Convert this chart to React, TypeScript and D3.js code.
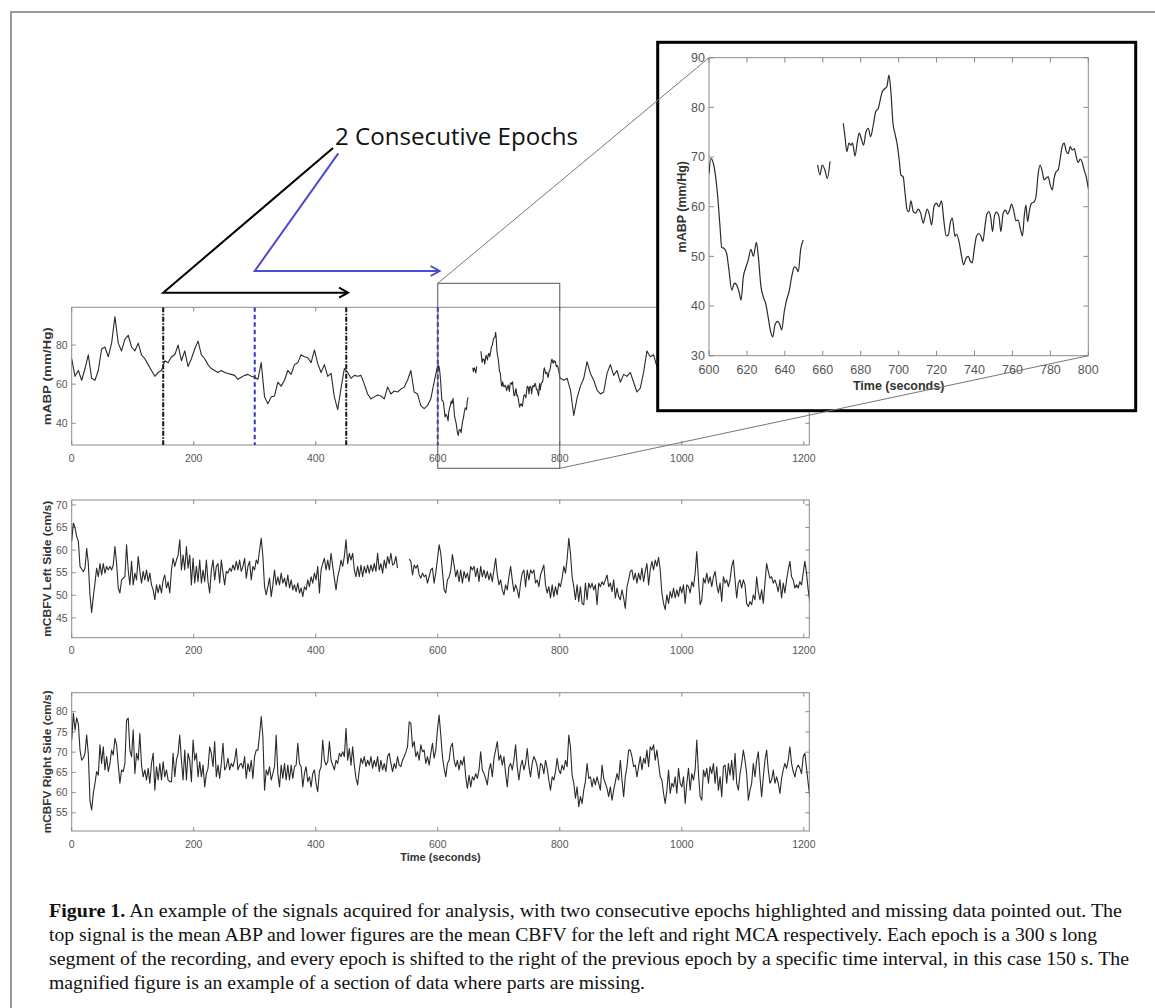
import { useEffect, useRef } from 'react';
import * as d3 from 'd3';

// ---- data ----
// mABP, whole recording, one value every 5.45 s (0 .. 599.5 s)
const ABP_STEP = 5.45;
const abpHead = [
  73, 64, 67, 62, 68, 75, 63, 62, 67, 78,
  79, 74, 81, 94.5, 81, 77, 83, 85, 79, 77,
  81, 75, 73, 70, 67, 64, 66, 67, 72, 71,
  74, 75, 80, 72, 77, 69, 73, 78, 82, 75,
  73, 70, 68, 67, 66, 67, 66, 65.5, 65, 64.5,
  62.5, 63.5, 64.5, 65, 64, 63.5, 62.5, 71, 53.5, 50,
  53.5, 54, 61, 59, 62, 67, 65, 70, 71, 75,
  74, 73.5, 71, 77.5, 70.5, 66, 70, 64, 65.5, 53.5,
  47, 58, 68, 66, 63, 64.5, 64, 64.5, 60, 55,
  52.5, 53.5, 54.5, 54, 52.5, 58.5, 55, 56.5, 56, 57.5,
  58.5, 62, 67, 56, 55, 49, 47.5, 49, 52.5, 61, 69,
];
// mABP after the magnified window (801 s on; the rest is under the inset)
const ABP_TAIL_START = 801.15;
const abpTail = [
  63, 62, 63, 57, 44, 53, 59, 63, 71.5, 65.5,
  62, 57, 55, 56, 65.5, 70, 64.5, 67, 61, 65,
  64, 66, 61, 56, 58, 66, 77, 74, 75, 69,
];
// magnified section 600-800 s, [time, mABP]; null = missing data
const abpZoom: [number, number | null][] = [
  [600, 66.7], [601, 69.7], [602.3, 68.7], [603.5, 66], [604.6, 62], [605.8, 56], [606.7, 51.8],
  [608, 51.6], [609.3, 50.6], [610.5, 47.3], [612, 43.2], [613.4, 44.6], [614.6, 44.2], [615.8, 42.9],
  [616.9, 41.2], [618.1, 45.9], [619.3, 47.6], [620.7, 49.3], [622.1, 51.4], [623.4, 50], [625, 52.8],
  [626, 50], [627.4, 43.9], [628.6, 41.9], [629.9, 40.5], [631.3, 37.5], [632.3, 35.2], [633.6, 33.8],
  [634.8, 36.2], [636.2, 36.9], [637.4, 36.2], [638.3, 35.2], [639.7, 38.9], [640.9, 41.2], [642.2, 42.9],
  [643.6, 45.9], [645, 47.9], [646.2, 47.6], [647.1, 46.9], [648.3, 51.3], [649.7, 53.3],
  [653, null],
  [657.3, 68.4], [658.5, 66.4], [659.7, 68.4], [661.1, 67.4], [662.4, 65.7], [663.8, 69.1],
  [667, null],
  [670.8, 76.8], [671.7, 74.1], [672.7, 71.1], [673.8, 72.8], [674.8, 72.4], [675.7, 72.8], [677, 70.2],
  [678.2, 73.1], [679.2, 74.8], [680.5, 73.4], [681.5, 72.4], [682.8, 75.1], [684, 75.8], [685.2, 74.1],
  [686.6, 76.4], [687.9, 79.1], [689.3, 79.8], [690.3, 81.5], [691.4, 83.2], [692.8, 83.8], [693.8, 84.2],
  [694.9, 86.5], [695.9, 83.2], [697, 76.8], [698, 74.8], [699.3, 72.4], [700.3, 69.4], [701.2, 66.4],
  [702.4, 66], [703.3, 63], [704.5, 59.3], [705.4, 59], [706.5, 61.2], [707.7, 59], [708.9, 58.7],
  [710.3, 59.5], [711.6, 58.7], [713, 56.7], [713.9, 58], [715.1, 59.5], [716, 58.7], [717.4, 56.3],
  [718.6, 60], [720, 60.7], [721.2, 60], [722.6, 61.2], [723.8, 57.3], [725.1, 54.1], [726.2, 54.3],
  [727.2, 56.7], [728.3, 57.7], [729.7, 54], [730.5, 54.5], [731.8, 53], [733.2, 50], [734.2, 48.3],
  [735.5, 49.6], [736.7, 50], [737.7, 49.1], [738.8, 48.7], [739.8, 51.3], [741, 54], [742.3, 54.6],
  [743.4, 54], [744.4, 53], [745.5, 56], [746.5, 58.5], [747.6, 59], [748.6, 57.7], [749.5, 55],
  [750.6, 58.3], [751.6, 58.9], [752.9, 58], [753.9, 55], [755.1, 58.7], [756.4, 59.3], [757.4, 58.5],
  [758.5, 59.3], [759.5, 60.5], [760.8, 59], [761.8, 57.2], [763, 57.3], [764.3, 55.3], [765.3, 54.1],
  [766.2, 58], [767.1, 60.3], [768, 57], [769, 59.3], [770.1, 60.7], [771.5, 61], [772.4, 62],
  [773.6, 66.7], [774.6, 68.4], [775.7, 67.1], [776.7, 65.4], [777.8, 65.8], [778.9, 66], [779.9, 64.4],
  [781, 63.4], [782, 65.8], [783.1, 67.1], [784.1, 67.4], [785.2, 69.7], [786.2, 72.1], [787.3, 72.8],
  [788.4, 71.1], [789.4, 70.7], [790.5, 72.1], [791.5, 71.4], [792.6, 71.7], [793.6, 70.1], [794.7, 68.9],
  [795.7, 69.6], [796.8, 68.9], [797.8, 67.4], [798.9, 66], [800, 63.7],
];

// mCBFV, one value every 2.725 s; null = missing data
const CBFV_STEP = 2.725;
const cbfvLeft: (number | null)[] = [
  62, 66, 65, 63, 62, 56.4, 55.8, 55.2, 56, 60.4,
  57, 50, 46.2, 49.7, 52.7, 56, 54.1, 57, 54.5, 57,
  54.9, 56.4, 55.6, 56.4, 55.6, 56.7, 60.8, 57, 51.6, 50.5,
  53.4, 53.8, 54.1, 61.2, 55.6, 52.3, 57.5, 52.3, 54.9, 53.4,
  58.6, 55.3, 52.7, 55.3, 53.4, 55.6, 53, 54.9, 52.3, 51.2,
  49, 52.3, 50.5, 52.3, 50.5, 53.4, 54.5, 51.6, 53, 50.5,
  55.6, 58.2, 56.4, 57.8, 58.9, 62.3, 55.6, 58.9, 55.6, 60.8,
  56, 58.9, 52.3, 58.2, 52.7, 56.4, 53, 57.8, 52.7, 55.6,
  53, 57.8, 53, 50.5, 55.6, 57.8, 53.4, 56.4, 57, 52.7,
  57.8, 54.9, 52.3, 55.3, 54.9, 56, 55.3, 56.7, 55.6, 57.5,
  55.6, 57.8, 55.3, 56.4, 58.2, 53.8, 56.4, 57.5, 53.4, 56.4,
  55.6, 57.8, 57, 60, 62.6, 58.6, 51.9, 50.1, 51.9, 53.8,
  49.7, 52.3, 55.6, 52.3, 54.1, 52.3, 54.9, 52.7, 53.8, 51.9,
  54.5, 51.6, 53.4, 51.2, 52.3, 50.8, 52.7, 50.5, 51.6, 49.7,
  51.9, 51.2, 53.4, 51.9, 54.1, 52.7, 54.9, 53.4, 56.4, 50.5,
  55.6, 57, 58.2, 55.6, 57.8, 55.6, 59.3, 56.4, 53.8, 51.2,
  54.1, 55.6, 57.8, 56.4, 58.6, 62.3, 57, 59.3, 57.8, 59.3,
  55.6, 54.1, 56.4, 54.1, 56.7, 54.1, 56.4, 54.9, 56.7, 54.9,
  56.7, 55.3, 57, 55.3, 59.3, 55.6, 57, 54.9, 57.8, 56,
  58.6, 57, 59.3, 56.7, 57, 58.6, 56, null, null, null,
  null, null, null, 58, 57.5, 54.5, 56.7, 56, 56.7, 54.5,
  53.8, 54.9, 54.1, 54.5, 52.7, 54.1, 55.6, 56, 52.7, 55,
  58, 61.2, 59.3, 55.3, 51.2, 50.5, 53.4, 54, 55.5, 59,
  56.7, 54.1, 55.6, 53, 55.6, 52.7, 55.3, 53.8, 54.9, 53,
  56.4, 55.6, 56.4, 54.1, 56, 53, 56.4, 54.1, 55.6, 53.8,
  55.3, 53.4, 54.9, 53, 55.6, 58.2, 54.5, 52.3, 53.4, 51.2,
  50.1, 52.3, 51.2, 54.1, 56.4, 53.4, 50.8, 52.3, 51.2, 49.4,
  52.7, 54.9, 55.6, 51.9, 55.6, 53.4, 55.6, 54.9, 55.6, 52.7,
  53.4, 51.9, 54.5, 55.6, 56.7, 52.3, 50.5, 51.9, 49.4, 52.3,
  49.7, 51.9, 50.1, 52.7, 51.9, 53.8, 56.4, 54.9, 58, 62.6,
  59.3, 54.1, 51.9, 49, 52.3, 48.6, 51.9, 48.2, 47.9, 52.7,
  49, 52.7, 51.6, 52.7, 51.2, 52.3, 47.9, 52.7, 51.9, 53,
  52.3, 53.4, 54.5, 51.9, 52.7, 50.8, 53.4, 49.4, 51.6, 49.7,
  49, 51.2, 49.4, 47.1, 51.9, 53.4, 55.3, 55.6, 53.4, 54.9,
  52.7, 54.9, 53.4, 56, 53, 55.3, 57, 52.3, 55.6, 57.5,
  55.6, 57.8, 56.4, 58.4, 55.6, 50.5, 48.2, 46.8, 50.1, 48.2,
  50.8, 49.4, 51.6, 49.4, 51.2, 49.7, 51.9, 50.5, 52.3, 48.2,
  52.3, 51.9, 50.5, 53, 51.9, 54.9, 59.7, 53.4, 47.9, 49,
  53.8, 52.7, 54.9, 52.7, 54.1, 51.9, 54.1, 55.3, 52.3, 50.5,
  52.7, 48.6, 54.1, 52.7, 53.4, 51.9, 53.4, 56.4, 57.8, 53.4,
  49.4, 52.7, 53.4, 51.6, 53.4, 52.3, 48.2, 47.5, 48.6, 47.9,
  50.1, 49, 54.1, 50.8, 49, 51.2, 48.2, 52.7, 57, 55.3,
  53.8, 54.1, 52.7, 53.4, 52.3, 50.8, 53.4, 49.4, 52.7, 50.5,
  53.4, 55.6, 57.5, 54.1, 53.4, 51.6, 52.3, 51.6, 53, 52.3,
  54.9, 57.5, 54.9, 51.2, 48.6,
];
const cbfvRight: (number | null)[] = [
  73, 79.6, 75.5, 78.5, 77, 70.5, 68, 68.5, 69.7, 74.2,
  69.5, 58, 55.7, 59.8, 62.3, 65.2, 64.3, 71.8, 67.2, 71.3,
  65.6, 68.9, 65.2, 67.2, 70.5, 69.3, 73.4, 71.8, 66.8, 62.3,
  65.6, 65.2, 67.2, 77.9, 78.4, 70.5, 68.9, 75.5, 64.7, 69.7,
  68, 74.6, 66.8, 63.9, 65.6, 63.1, 66, 62.3, 67.2, 69.7,
  60.6, 66.4, 63.1, 67.2, 63.1, 67.6, 63.9, 65.6, 63.1, 62.7,
  62.7, 69.7, 63.9, 68, 69.7, 74.2, 68, 63.1, 70.5, 63.1,
  69.7, 68, 62.7, 73, 68, 69.7, 63.9, 67.6, 63.9, 66.8,
  61.4, 64.7, 66, 71.3, 69.7, 66.4, 72.6, 63.9, 66.8, 63.5,
  67.2, 72.2, 65.6, 66.4, 68.5, 65.6, 67.2, 66.4, 68, 70.9,
  65.6, 66.8, 67.2, 66, 68.9, 63.5, 67.2, 65.2, 68, 63.5,
  68.9, 70.5, 70.5, 74.2, 78.8, 73.8, 60.6, 65.6, 64.3, 66.4,
  63.1, 64.7, 66.4, 74.2, 64.7, 61.4, 66.8, 63.5, 67.2, 63.1,
  66.8, 63.1, 66.8, 63.5, 66.4, 66.8, 72.2, 67.2, 66.4, 61.4,
  64.7, 66.4, 62.7, 63.9, 61.4, 64.7, 65.6, 62.3, 60.2, 65.2,
  66.4, 73, 68, 66.8, 67.6, 72.6, 68, 66.8, 65.6, 68,
  67.2, 69.7, 68.9, 70.1, 68.9, 75.9, 68, 70.9, 66.8, 71.3,
  66.8, 63.5, 61.9, 65.6, 68.5, 67.2, 68.9, 66.4, 68, 66.8,
  68.9, 66, 68, 66.4, 68.9, 65.2, 68, 65.6, 67.2, 65.2,
  68.9, 69.7, 67.2, 65.2, 67.2, 66, 68.9, 66.8, 66.4, 68,
  68.9, 70, 71.3, 77.5, 77.1, 71.3, 72.6, 68.9, 70.1, 68,
  71.8, 70.1, 70.5, 67.2, 68.9, 66.8, 69.7, 72.2, 68.5, 70.5,
  75.5, 79.2, 74.2, 68.9, 66, 63.9, 67.2, 68, 71.3, 72.2,
  68, 66.4, 68, 65.6, 68, 66.8, 68.9, 63.9, 61, 64.3,
  61.4, 63.9, 63.1, 64.7, 63.5, 65.6, 70.1, 65.6, 64.7, 63.5,
  61.9, 65.6, 67.2, 63.9, 68.5, 70.5, 72.6, 68, 69.3, 66.8,
  68.9, 64.7, 61.4, 66.4, 67.2, 65.6, 68, 71.8, 66.4, 63.1,
  66.4, 68, 65.6, 67.2, 70.9, 66.4, 63.9, 67.2, 68.9, 68,
  66.4, 63.5, 67.2, 66.8, 64.7, 68, 66, 63.1, 60.6, 63.9,
  63.1, 65.2, 68.5, 65.6, 64.7, 66.8, 65.6, 68, 66.4, 74.2,
  71.3, 64.3, 62.3, 58.6, 61.4, 56.5, 59, 57.3, 60.6, 62.7,
  67.2, 63.5, 63.9, 61.4, 63.5, 61.9, 63.9, 62.3, 60.6, 66.8,
  63.5, 62.3, 61, 59, 61.4, 58.1, 60.6, 62.7, 64.7, 63.1,
  68, 63.1, 59, 63.9, 66.4, 70.5, 70.5, 68.9, 66.4, 66.8,
  63.9, 66.4, 68.9, 65.6, 68.5, 67.2, 70.5, 66.4, 71.3, 70.5,
  71.8, 68, 70.5, 67.2, 63.9, 63.1, 59.8, 57.3, 60.6, 65.6,
  59.8, 62.3, 61.4, 63.9, 59.8, 66, 62.3, 61.4, 63.9, 57.3,
  62.3, 66, 60.6, 64.7, 63.1, 65.6, 73, 64.7, 59, 58.1,
  65.6, 63.9, 66, 62.3, 66.4, 64.7, 67.2, 62.3, 66.4, 60.6,
  63.9, 59, 66.4, 66.8, 62.3, 67.2, 64.3, 68, 63.1, 69.7,
  62.3, 60.6, 64.7, 67.2, 70.5, 68, 64.7, 58.1, 60.6, 62.3,
  67.2, 63.9, 68, 70.1, 63.9, 59, 63.9, 68, 70.5, 65.6,
  62.3, 63.1, 65.6, 62.3, 63.9, 62.3, 59.8, 63.5, 65.6, 67.2,
  66, 68, 71.3, 67.2, 65.2, 63.9, 66, 66.8, 66, 64.7,
  68.9, 69.7, 66, 62.3, 59,
];

const timeTicks = [0, 200, 400, 600, 800, 1000, 1200];
const abpTicks = [40, 60, 80];
const leftTicks = [45, 50, 55, 60, 65, 70];
const rightTicks = [55, 60, 65, 70, 75, 80];
const zoomTimeTicks = [600, 620, 640, 660, 680, 700, 720, 740, 760, 780, 800];
const zoomAbpTicks = [30, 40, 50, 60, 70, 80, 90];
const blackEpochEdges = [150, 450];
const blueEpochEdges = [300, 600];

const captionLines = [
  'An example of the signals acquired for analysis, with two consecutive epochs highlighted and missing data pointed out. The',
  'top signal is the mean ABP and lower figures are the mean CBFV for the left and right MCA respectively. Each epoch is a 300 s long',
  'segment of the recording, and every epoch is shifted to the right of the previous epoch by a specific time interval, in this case 150 s. The',
  'magnified figure is an example of a section of data where parts are missing.',
];
const captionWidths = [1073, 1048, 1080, 596];

type Pt = [number, number | null];
const SANS = '"Liberation Sans", Arial, sans-serif';

function drawPanel(root: any, o: any) {
  const x = d3.scaleLinear().domain(o.xDomain).range([o.left, o.right]);
  const y = d3.scaleLinear().domain(o.yDomain).range([o.bottom, o.top]);
  const g = root.append('g');
  const tl = o.tickLen;

  const clipId = `clip-${o.id}`;
  g.append('clipPath').attr('id', clipId)
    .append('rect')
    .attr('x', o.left).attr('y', o.top)
    .attr('width', o.right - o.left).attr('height', o.bottom - o.top);

  // ticks on all four sides, pointing in
  o.xTicks.forEach((t: number) => {
    g.append('line').attr('x1', x(t)).attr('x2', x(t)).attr('y1', o.bottom).attr('y2', o.bottom - tl)
      .attr('stroke', '#8a8a8a');
    g.append('line').attr('x1', x(t)).attr('x2', x(t)).attr('y1', o.top).attr('y2', o.top + tl)
      .attr('stroke', '#8a8a8a');
    g.append('text').attr('x', x(t)).attr('y', o.bottom + o.xLabelGap)
      .attr('text-anchor', 'middle').attr('font-family', SANS).attr('font-size', o.font)
      .attr('fill', '#555').text(t);
  });
  o.yTicks.forEach((t: number) => {
    g.append('line').attr('x1', o.left).attr('x2', o.left + tl).attr('y1', y(t)).attr('y2', y(t))
      .attr('stroke', '#8a8a8a');
    g.append('line').attr('x1', o.right).attr('x2', o.right - tl).attr('y1', y(t)).attr('y2', y(t))
      .attr('stroke', '#8a8a8a');
    g.append('text').attr('x', o.left - 4).attr('y', y(t)).attr('dy', '0.35em')
      .attr('text-anchor', 'end').attr('font-family', SANS).attr('font-size', o.font)
      .attr('fill', '#555').text(t);
  });

  g.append('rect')
    .attr('x', o.left).attr('y', o.top)
    .attr('width', o.right - o.left).attr('height', o.bottom - o.top)
    .attr('fill', 'none').attr('stroke', '#8a8a8a').attr('stroke-width', 1);

  const line = d3.line<Pt>()
    .defined(d => d[1] != null)
    .x(d => x(d[0]))
    .y(d => y(d[1] as number))
    .curve(o.curve || d3.curveLinear);

  const plot = g.append('g').attr('clip-path', `url(#${clipId})`);

  if (o.extra) o.extra(plot, x, y);

  plot.append('path')
    .datum(o.points)
    .attr('fill', 'none')
    .attr('stroke', '#2a2a2a')
    .attr('stroke-width', o.lineWidth || 1)
    .attr('stroke-linejoin', 'round')
    .attr('d', line);

  if (o.yLabel) {
    const t = g.append('text')
      .attr('transform', `translate(${o.yLabelX},${(o.top + o.bottom) / 2}) rotate(-90)`)
      .attr('text-anchor', 'middle').attr('dy', '0.35em')
      .attr('font-family', SANS).attr('font-weight', 'bold').attr('font-size', o.labelFont)
      .attr('fill', '#333').text(o.yLabel);
    if (o.yLabelLength) t.attr('textLength', o.yLabelLength).attr('lengthAdjust', 'spacingAndGlyphs');
  }
  if (o.xLabel) {
    g.append('text')
      .attr('x', (o.left + o.right) / 2).attr('y', o.xLabelY)
      .attr('text-anchor', 'middle')
      .attr('font-family', SANS).attr('font-weight', 'bold').attr('font-size', o.labelFont)
      .attr('fill', '#333').text(o.xLabel);
  }
  return { x, y };
}

function chevron(g: any, tipX: number, tipY: number, color: string) {
  g.append('path')
    .attr('d', `M${tipX - 9},${tipY - 5} L${tipX},${tipY} L${tipX - 9},${tipY + 5}`)
    .attr('fill', 'none').attr('stroke', color).attr('stroke-width', 2);
}

export default function App() {
  const svgRef = useRef<SVGSVGElement>(null);

  useEffect(() => {
    if (!svgRef.current) return;
    const svg = d3.select(svgRef.current);
    svg.selectAll('*').remove();

    svg.append('rect').attr('width', 1155).attr('height', 1008).attr('fill', '#fff');
    // page frame
    svg.append('path').attr('d', 'M11,1008 V12 H1155')
      .attr('fill', 'none').attr('stroke', '#9a9a9a').attr('stroke-width', 2);

    const cbfvPoints = (vals: (number | null)[]): Pt[] => vals.map((v, i) => [i * CBFV_STEP, v]);
    const abpPoints: Pt[] = [
      ...abpHead.map((v, j) => [j * ABP_STEP, v] as Pt),
      ...abpZoom,
      ...abpTail.map((v, k) => [ABP_TAIL_START + k * ABP_STEP, v] as Pt),
    ];

    const common = {
      left: 71.7, right: 809.3, xDomain: [0, 1209], xTicks: timeTicks,
      tickLen: 4, font: 10.5, labelFont: 11, xLabelGap: 16.5, yLabelX: 47,
    };

    // top: mABP with the epoch edges
    const top = drawPanel(svg, {
      ...common, id: 'abp', top: 307.3, bottom: 445, yDomain: [28.9, 99.3], yTicks: abpTicks,
      points: abpPoints, yLabel: 'mABP (mm/Hg)', yLabelLength: 98, lineWidth: 1.1,
      extra: (plot: any, x: any) => {
        blackEpochEdges.forEach(t => {
          plot.append('line').attr('x1', x(t)).attr('x2', x(t)).attr('y1', 307.3).attr('y2', 445)
            .attr('stroke', '#111').attr('stroke-width', 2).attr('stroke-dasharray', '5,1.5,1.5,1.5');
        });
        blueEpochEdges.forEach(t => {
          plot.append('line').attr('x1', x(t)).attr('x2', x(t)).attr('y1', 307.3).attr('y2', 445)
            .attr('stroke', '#3030d8').attr('stroke-width', 2).attr('stroke-dasharray', '4.5,3');
        });
      },
    });

    drawPanel(svg, {
      ...common, id: 'left', top: 500, bottom: 637.7, yDomain: [40.6, 71.1], yTicks: leftTicks,
      points: cbfvPoints(cbfvLeft), yLabel: 'mCBFV Left Side (cm/s)', yLabelLength: 136, lineWidth: 1.1,
    });

    drawPanel(svg, {
      ...common, id: 'right', top: 692.7, bottom: 831, yDomain: [50.5, 84.7], yTicks: rightTicks,
      points: cbfvPoints(cbfvRight), yLabel: 'mCBFV Right Side (cm/s)', yLabelLength: 143, lineWidth: 1.1,
      xLabel: 'Time (seconds)', xLabelY: 861,
    });

    // box marking the magnified window
    const zx0 = top.x(600), zx1 = top.x(800);
    svg.append('rect').attr('x', zx0).attr('y', 283.3).attr('width', zx1 - zx0).attr('height', 185)
      .attr('fill', 'none').attr('stroke', '#555').attr('stroke-width', 1);

    // inset
    svg.append('rect').attr('x', 657.7).attr('y', 42.3).attr('width', 478).attr('height', 368.4)
      .attr('fill', '#fff').attr('stroke', '#000').attr('stroke-width', 3);

    const inset = drawPanel(svg, {
      id: 'zoom', left: 709, right: 1088.3, top: 57.7, bottom: 355.7,
      xDomain: [600, 800], yDomain: [30, 90], xTicks: zoomTimeTicks, yTicks: zoomAbpTicks,
      tickLen: 5, font: 12.5, labelFont: 12.5, xLabelGap: 18, yLabelX: 682,
      points: abpZoom, yLabel: 'mABP (mm/Hg)', xLabel: 'Time (seconds)', xLabelY: 390,
      curve: d3.curveMonotoneX, lineWidth: 1.2,
    });

    // connectors between the window and the inset
    svg.append('line').attr('x1', zx0).attr('y1', 283.3).attr('x2', inset.x(600)).attr('y2', inset.y(90))
      .attr('stroke', '#777').attr('stroke-width', 1);
    svg.append('line').attr('x1', zx1).attr('y1', 468.3).attr('x2', inset.x(800)).attr('y2', inset.y(30))
      .attr('stroke', '#777').attr('stroke-width', 1);

    // "2 Consecutive Epochs" annotation
    const ann = svg.append('g');
    ann.append('text').attr('x', 335).attr('y', 145)
      .attr('font-family', '"Open Sans", "Noto Sans", sans-serif').attr('font-size', 24)
      .attr('fill', '#111').attr('textLength', 243).attr('lengthAdjust', 'spacingAndGlyphs')
      .text('2 Consecutive Epochs');
    const bx0 = top.x(150), bx1 = top.x(453);
    ann.append('path').attr('d', `M333,148 L${bx0},292.7 L${bx1},292.7`)
      .attr('fill', 'none').attr('stroke', '#000').attr('stroke-width', 2);
    chevron(ann, bx1, 292.7, '#000');
    const ux0 = top.x(300), ux1 = top.x(603);
    ann.append('path').attr('d', `M338.3,153.3 L${ux0},271 L${ux1},271`)
      .attr('fill', 'none').attr('stroke', '#4b4bd0').attr('stroke-width', 2);
    chevron(ann, ux1, 271, '#4b4bd0');

    // caption
    const cap = svg.append('g').attr('font-family', '"Liberation Serif", "Times New Roman", serif')
      .attr('font-size', 18).attr('fill', '#111');
    captionLines.forEach((s, i) => {
      const t = cap.append('text').attr('x', 49).attr('y', 917 + i * 24)
        .attr('textLength', captionWidths[i]).attr('lengthAdjust', 'spacingAndGlyphs');
      if (i === 0) {
        t.append('tspan').attr('font-weight', 'bold').text('Figure 1.');
        t.append('tspan').text(' ' + s);
      } else {
        t.text(s);
      }
    });
  }, []);

  return (
    <svg
      ref={svgRef}
      width={1155}
      height={1008}
      style={{ position: 'absolute', left: 0, top: 0, display: 'block' }}
    />
  );
}
